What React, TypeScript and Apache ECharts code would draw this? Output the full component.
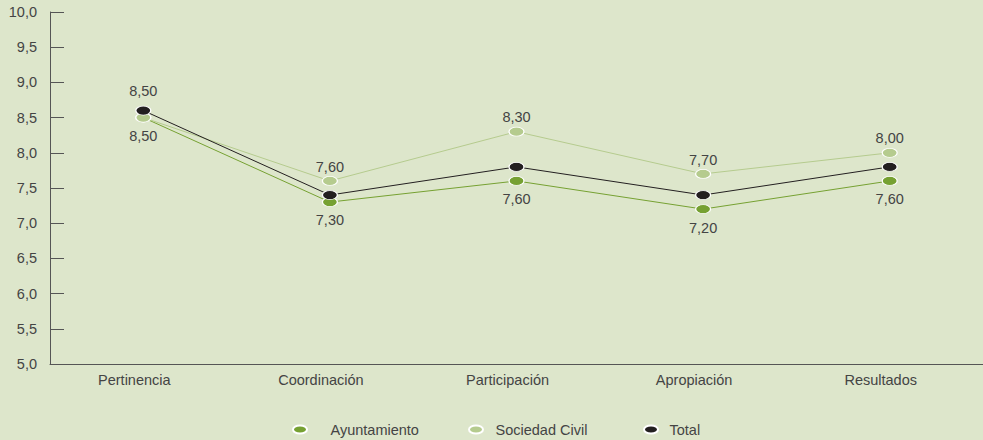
import React, { useEffect, useRef } from "react";
import * as echarts from "echarts";

const categories = ["Pertinencia", "Coordinación", "Participación", "Apropiación", "Resultados"];
const ayuntamiento = [8.5, 7.3, 7.6, 7.2, 7.6];
const sociedadCivil = [8.5, 7.6, 8.3, 7.7, 8.0];
const total = [8.6, 7.4, 7.8, 7.4, 7.8];
const seriesNames = ["Ayuntamiento", "Sociedad Civil", "Total"];

const FONT = "'Liberation Sans', Arial, sans-serif";
const FS = 14.5;
const TEXT = "#444444";
const fmt = (v: number, d: number) => v.toFixed(d).replace(".", ",");
const ELLIPSE = "path://M0,4A7,4 0 1,0 14,4A7,4 0 1,0 0,4Z";

export default function App() {
  const ref = useRef<HTMLDivElement>(null);
  useEffect(() => {
    document.body.style.margin = "0";
    const chart = echarts.init(ref.current!, null, { renderer: "svg" });
    const markerBase = {
      type: "line" as const,
      symbol: ELLIPSE,
      symbolSize: [15, 9],
      lineStyle: { width: 1 },
    };
    const legendItem = (name: string, left: number, gap: number) => ({
      data: [name],
      left,
      top: 422,
      padding: 0,
      icon: ELLIPSE,
      itemWidth: 15,
      itemHeight: 8,
      textStyle: { fontFamily: FONT, fontSize: FS, color: TEXT, padding: [0, 0, 0, gap] },
    });
    chart.setOption({
      animation: false,
      backgroundColor: "#dde6cb",
      textStyle: { fontFamily: FONT },
      grid: { left: 50, right: 0, top: 12, bottom: 76, containLabel: false },
      legend: [
        legendItem(seriesNames[0], 292, 18),
        legendItem(seriesNames[1], 468, 7),
        legendItem(seriesNames[2], 643, 6),
      ],
      xAxis: {
        type: "category",
        data: categories,
        boundaryGap: true,
        axisLine: { lineStyle: { color: "#555", width: 1 } },
        axisTick: { inside: true, length: 8, lineStyle: { color: "#333" } },
        axisLabel: {
          fontFamily: FONT,
          fontSize: FS,
          color: TEXT,
          margin: 8,
          padding: [0, 18, 0, 0],
        },
      },
      yAxis: {
        type: "value",
        min: 5,
        max: 10,
        interval: 0.5,
        splitLine: { show: false },
        axisLine: { show: true, lineStyle: { color: "#555", width: 1 } },
        axisTick: { show: true, inside: true, length: 14, lineStyle: { color: "#555" } },
        axisLabel: {
          fontFamily: FONT,
          fontSize: FS,
          color: TEXT,
          margin: 13,
          formatter: (v: number) => fmt(v, 1),
        },
      },
      series: [
        {
          ...markerBase,
          name: seriesNames[0],
          data: ayuntamiento,
          z: 2,
          itemStyle: { color: "#76a132", borderColor: "#ffffff", borderWidth: 1 },
          lineStyle: { width: 1, color: "#76a132" },
          label: {
            show: true,
            position: "bottom",
            distance: 6,
            fontFamily: FONT,
            fontSize: FS,
            color: TEXT,
            formatter: (p: any) => fmt(p.value, 2),
          },
        },
        {
          ...markerBase,
          name: seriesNames[1],
          z: 3,
          data: sociedadCivil.map((v, i) =>
            i === 0 ? { value: v, label: { distance: 14 } } : v
          ),
          itemStyle: { color: "#b5cb8e", borderColor: "#ffffff", borderWidth: 1 },
          lineStyle: { width: 1, color: "#b5cb8e" },
          label: {
            show: true,
            position: "top",
            distance: 2,
            fontFamily: FONT,
            fontSize: FS,
            color: TEXT,
            formatter: (p: any) => fmt(p.value, 2),
          },
        },
        {
          ...markerBase,
          name: seriesNames[2],
          z: 4,
          data: total,
          itemStyle: { color: "#231f20", borderColor: "#ffffff", borderWidth: 1 },
          lineStyle: { width: 1, color: "#231f20" },
          label: { show: false },
        },
      ],
    });
    return () => chart.dispose();
  }, []);
  return <div ref={ref} style={{ width: 983, height: 440 }} />;
}
